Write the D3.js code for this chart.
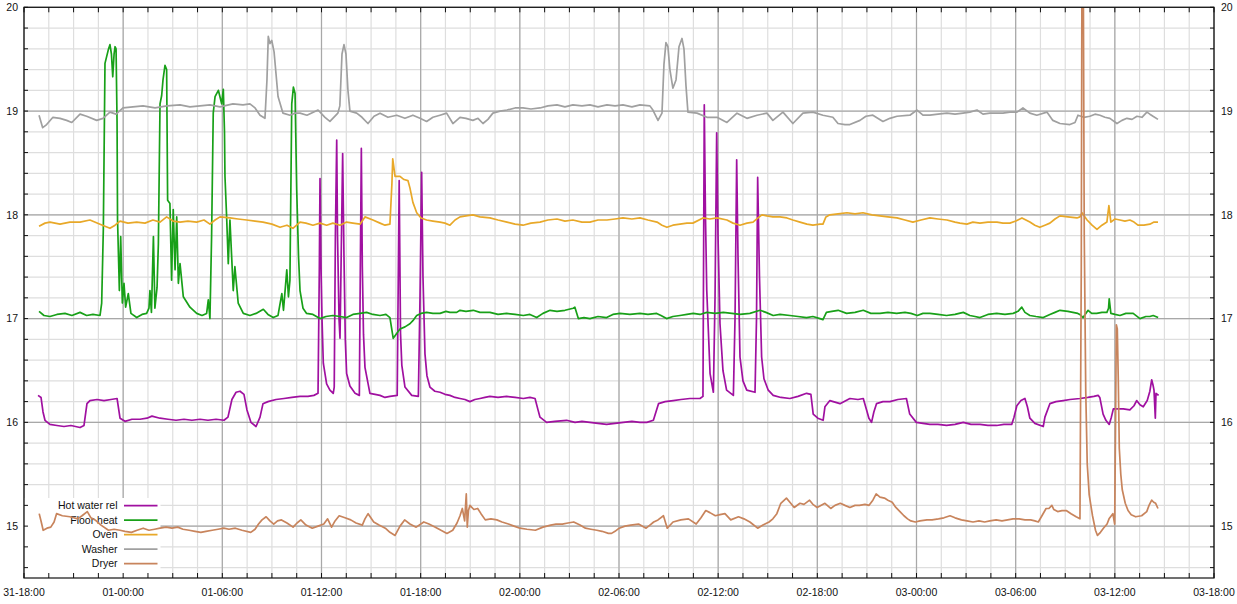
<!DOCTYPE html>
<html><head><meta charset="utf-8">
<script src="https://cdn.jsdelivr.net/npm/d3@7"></script>
<style>
html,body{margin:0;padding:0;background:#fff;}
svg{display:block;font-family:"Liberation Sans",Arial,sans-serif;}
</style></head>
<body><svg id="chart" width="1237" height="604"></svg>
<script>
// ---- data: [hours since 31-18:00, value] ----
const seriesNames = ["Hot water rel","Floor heat","Oven","Washer","Dryer"];
const seriesColors = ["#a010a0","#18a018","#e8a828","#a0a0a0","#c8845c"];
const startTime = "2024-01-31T18:00:00";
const yTickValues = [15,16,17,18,19,20];

const hotWater = [[0.85,16.26],[1.03,16.24],[1.15,16.10],[1.27,16.02],[1.57,15.98],[1.99,15.97],[2.42,15.96],[2.84,15.97],[3.39,15.95],[3.63,15.97],[3.81,16.18],[3.99,16.21],[4.42,16.22],[4.84,16.21],[5.26,16.22],[5.63,16.23],[5.81,16.04],[6.11,16.01],[6.53,16.03],[7.02,16.03],[7.44,16.04],[7.74,16.06],[8.23,16.04],[8.71,16.03],[9.20,16.02],[9.68,16.03],[10.16,16.02],[10.65,16.03],[11.13,16.02],[11.62,16.03],[12.10,16.02],[12.34,16.05],[12.58,16.22],[12.83,16.29],[13.07,16.30],[13.31,16.27],[13.49,16.12],[13.73,16.00],[14.04,15.96],[14.28,16.05],[14.46,16.18],[14.76,16.20],[15.25,16.22],[15.73,16.23],[16.21,16.24],[16.70,16.25],[17.18,16.25],[17.54,16.26],[17.79,16.28],[17.87,17.50],[17.91,18.35],[17.97,17.50],[18.03,17.00],[18.11,16.57],[18.31,16.37],[18.51,16.31],[18.71,16.28],[18.77,16.34],[18.84,17.80],[18.92,18.72],[18.97,17.80],[19.06,17.00],[19.12,16.81],[19.20,17.70],[19.28,18.59],[19.36,17.60],[19.44,16.80],[19.52,16.47],[19.72,16.35],[20.03,16.28],[20.29,16.26],[20.35,17.50],[20.41,18.64],[20.47,17.50],[20.54,16.85],[20.63,16.53],[20.93,16.28],[21.24,16.27],[21.54,16.26],[21.84,16.24],[22.14,16.25],[22.58,16.26],[22.64,17.30],[22.70,18.33],[22.78,16.86],[22.86,16.55],[23.05,16.34],[23.46,16.26],[23.86,16.25],[23.96,17.20],[24.06,18.41],[24.14,17.40],[24.26,16.66],[24.38,16.45],[24.56,16.34],[24.86,16.30],[25.17,16.29],[25.47,16.27],[25.77,16.26],[26.08,16.24],[26.38,16.23],[26.68,16.22],[26.98,16.20],[27.28,16.22],[27.59,16.23],[27.89,16.24],[28.19,16.25],[28.68,16.24],[29.20,16.25],[29.71,16.24],[30.21,16.23],[30.61,16.24],[30.92,16.23],[31.10,16.12],[31.22,16.05],[31.62,16.00],[32.12,16.01],[32.83,16.02],[33.34,16.00],[33.76,16.01],[34.24,16.00],[34.73,15.99],[35.25,15.98],[35.76,15.99],[36.26,16.00],[36.78,16.01],[37.27,16.00],[37.68,16.00],[38.08,16.02],[38.39,16.18],[38.79,16.20],[39.28,16.21],[39.75,16.22],[40.29,16.23],[40.90,16.23],[41.08,16.25],[41.16,19.06],[41.23,18.00],[41.31,17.27],[41.51,16.47],[41.71,16.29],[41.81,17.20],[41.91,18.79],[41.99,17.80],[42.11,16.95],[42.29,16.50],[42.51,16.31],[42.92,16.26],[43.02,17.00],[43.12,18.53],[43.20,17.60],[43.32,16.63],[43.50,16.40],[43.73,16.31],[44.23,16.29],[44.32,17.00],[44.39,18.36],[44.50,17.40],[44.63,16.63],[44.77,16.42],[45.03,16.31],[45.33,16.26],[45.80,16.24],[46.34,16.23],[46.83,16.25],[47.35,16.28],[47.61,16.27],[47.75,16.08],[48.03,16.04],[48.35,16.02],[48.46,16.15],[48.76,16.21],[49.37,16.18],[49.97,16.23],[50.46,16.22],[50.78,16.23],[50.98,16.12],[51.12,16.04],[51.28,16.00],[51.42,16.10],[51.58,16.18],[51.97,16.20],[52.39,16.20],[52.87,16.22],[53.39,16.23],[53.59,16.08],[53.99,16.00],[54.39,15.99],[54.81,15.98],[55.30,15.98],[55.82,15.97],[56.33,15.98],[56.83,16.00],[57.30,15.98],[57.84,15.98],[58.32,15.97],[58.85,15.97],[59.29,15.98],[59.76,15.98],[59.90,16.05],[60.07,16.16],[60.32,16.21],[60.56,16.23],[60.71,16.15],[60.86,16.04],[61.16,15.99],[61.67,15.96],[61.77,16.05],[62.07,16.18],[62.44,16.20],[62.88,16.21],[63.29,16.22],[63.89,16.23],[64.37,16.24],[64.73,16.25],[64.99,16.26],[65.09,16.24],[65.29,16.08],[65.46,16.02],[65.66,15.98],[65.79,16.05],[65.91,16.13],[66.19,16.13],[66.51,16.13],[66.91,16.12],[67.16,16.16],[67.32,16.21],[67.52,16.17],[67.72,16.15],[67.96,16.21],[68.12,16.30],[68.23,16.41],[68.31,16.36],[68.37,16.31],[68.45,16.04],[68.49,16.28],[68.65,16.26]];

const floorHeat = [[0.91,17.07],[1.21,17.03],[1.57,17.02],[1.99,17.04],[2.48,17.05],[2.90,17.03],[3.39,17.06],[3.79,17.03],[4.17,17.04],[4.60,17.03],[4.70,17.15],[4.80,17.86],[4.90,19.46],[5.10,19.59],[5.20,19.64],[5.29,19.55],[5.37,19.33],[5.45,19.55],[5.51,19.62],[5.57,19.60],[5.63,18.90],[5.66,17.95],[5.77,17.27],[5.85,17.79],[5.95,17.15],[6.05,17.34],[6.15,17.11],[6.31,17.24],[6.47,17.05],[6.82,17.01],[7.14,17.04],[7.42,17.05],[7.56,17.10],[7.62,17.27],[7.71,17.06],[7.83,17.79],[7.92,17.10],[8.05,17.30],[8.13,17.72],[8.23,19.07],[8.33,19.15],[8.41,19.30],[8.53,19.44],[8.63,19.40],[8.69,18.14],[8.83,18.11],[8.93,17.37],[9.03,18.05],[9.14,17.47],[9.24,17.98],[9.34,17.34],[9.44,17.53],[9.64,17.21],[10.04,17.11],[10.45,17.05],[10.77,17.03],[11.05,17.05],[11.15,17.18],[11.25,17.00],[11.35,17.79],[11.45,18.98],[11.56,19.14],[11.76,19.20],[11.96,19.07],[12.06,19.21],[12.13,18.80],[12.16,18.37],[12.26,17.98],[12.36,17.53],[12.46,17.95],[12.66,17.27],[12.76,17.50],[12.96,17.15],[13.27,17.05],[13.67,17.03],[14.04,17.05],[14.48,17.09],[14.76,17.04],[15.08,17.01],[15.37,17.03],[15.60,17.24],[15.70,17.08],[15.90,17.47],[16.00,17.21],[16.09,17.37],[16.20,19.07],[16.30,19.23],[16.40,19.17],[16.50,18.24],[16.61,17.60],[16.70,17.27],[16.88,17.10],[17.10,17.05],[17.48,17.04],[17.91,17.00],[18.27,17.02],[18.69,17.03],[19.12,17.02],[19.52,17.01],[19.90,17.04],[20.33,17.05],[20.73,17.06],[21.11,17.04],[21.54,17.03],[21.90,17.04],[22.14,17.01],[22.34,16.81],[22.57,16.86],[22.75,16.90],[23.05,16.92],[23.35,16.95],[23.53,16.98],[23.76,17.03],[24.02,17.05],[24.36,17.06],[24.74,17.05],[25.17,17.05],[25.53,17.07],[25.77,17.06],[26.18,17.06],[26.38,17.08],[26.74,17.07],[27.18,17.08],[27.59,17.06],[28.19,17.06],[28.68,17.04],[29.20,17.05],[29.71,17.04],[30.21,17.03],[30.61,17.04],[31.02,17.01],[31.40,17.05],[31.83,17.08],[32.25,17.07],[32.73,17.08],[33.23,17.10],[33.33,17.11],[33.54,17.00],[33.88,17.01],[34.24,17.00],[34.73,17.02],[35.25,17.01],[35.63,17.04],[36.06,17.05],[36.66,17.04],[37.27,17.05],[37.75,17.04],[38.28,17.05],[38.54,17.03],[38.88,17.00],[39.26,17.02],[39.69,17.03],[40.11,17.04],[40.49,17.05],[40.90,17.04],[41.31,17.06],[41.81,17.05],[42.31,17.06],[42.83,17.05],[43.32,17.04],[43.92,17.05],[44.53,17.08],[44.89,17.06],[45.33,17.03],[45.74,17.04],[46.34,17.03],[46.83,17.02],[47.35,17.01],[47.73,17.02],[48.16,17.00],[48.34,16.99],[48.55,17.06],[48.88,17.07],[49.26,17.08],[49.77,17.05],[50.28,17.06],[50.78,17.08],[51.24,17.05],[51.79,17.05],[52.27,17.06],[52.80,17.05],[53.30,17.06],[53.66,17.05],[54.05,17.03],[54.39,17.05],[54.81,17.05],[55.30,17.04],[55.82,17.03],[56.33,17.04],[56.83,17.06],[57.23,17.03],[57.54,17.02],[57.84,17.01],[58.32,17.04],[58.85,17.05],[59.35,17.04],[59.85,17.05],[60.14,17.07],[60.37,17.11],[60.56,17.06],[60.86,17.03],[61.23,17.02],[61.67,17.01],[62.07,17.04],[62.38,17.06],[62.68,17.08],[63.16,17.07],[63.76,17.05],[63.88,17.04],[64.08,17.01],[64.38,17.08],[64.60,17.05],[64.90,17.05],[65.22,17.06],[65.52,17.06],[65.62,17.10],[65.66,17.19],[65.76,17.05],[66.01,17.04],[66.31,17.03],[66.67,17.05],[67.11,17.05],[67.52,17.00],[67.88,17.02],[68.12,17.02],[68.32,17.03],[68.62,17.01]];

const oven = [[0.91,17.89],[1.27,17.92],[1.57,17.93],[2.18,17.91],[2.78,17.93],[3.39,17.93],[3.99,17.95],[4.60,17.91],[5.20,17.87],[5.51,17.90],[5.81,17.94],[6.29,17.92],[6.82,17.93],[7.32,17.92],[7.80,17.95],[8.23,17.93],[8.63,17.98],[9.02,17.94],[9.44,17.93],[9.92,17.94],[10.45,17.93],[10.89,17.95],[11.25,17.91],[11.56,17.95],[11.86,17.98],[12.46,17.97],[12.95,17.96],[13.47,17.95],[13.98,17.94],[14.46,17.93],[15.00,17.91],[15.49,17.88],[15.91,17.90],[16.27,17.87],[16.70,17.93],[17.06,17.92],[17.48,17.90],[17.91,17.92],[18.31,17.90],[18.69,17.92],[19.12,17.90],[19.52,17.93],[19.90,17.92],[20.33,17.91],[20.63,17.98],[21.11,17.95],[21.54,17.92],[21.84,17.90],[22.14,17.91],[22.26,18.30],[22.31,18.54],[22.45,18.37],[22.75,18.37],[22.99,18.34],[23.23,18.33],[23.35,18.26],[23.53,18.12],[23.76,18.02],[24.02,17.97],[24.36,17.95],[24.74,17.94],[25.17,17.93],[25.47,17.92],[25.77,17.90],[26.08,17.95],[26.38,17.98],[26.74,17.99],[27.16,18.00],[27.59,17.98],[28.19,17.97],[28.68,17.95],[29.22,17.93],[29.71,17.91],[30.19,17.90],[30.67,17.92],[31.22,17.93],[31.70,17.95],[32.25,17.96],[32.73,17.94],[33.21,17.95],[33.76,17.93],[34.24,17.93],[34.73,17.95],[35.27,17.95],[35.76,17.96],[36.24,17.97],[36.78,17.96],[37.27,17.97],[37.75,17.95],[38.30,17.93],[38.60,17.90],[38.90,17.88],[39.26,17.90],[39.69,17.91],[40.11,17.92],[40.47,17.92],[41.08,17.97],[41.50,17.96],[41.93,17.97],[42.53,17.95],[42.90,17.92],[43.32,17.90],[43.74,17.92],[44.11,17.93],[44.41,17.97],[44.65,18.00],[44.95,17.99],[45.31,17.98],[45.74,17.98],[46.16,17.97],[46.52,17.95],[46.95,17.93],[47.37,17.91],[47.73,17.90],[48.16,17.91],[48.34,17.91],[48.52,17.98],[48.76,18.00],[49.25,18.01],[49.79,18.02],[50.28,18.01],[50.76,18.02],[51.30,18.00],[51.79,17.99],[52.27,17.98],[52.82,17.97],[53.30,17.95],[53.78,17.93],[54.27,17.95],[54.81,17.97],[55.30,17.96],[55.84,17.95],[56.33,17.93],[56.63,17.92],[57.05,17.91],[57.41,17.93],[57.84,17.92],[58.32,17.93],[58.87,17.93],[59.23,17.92],[59.65,17.92],[60.01,17.94],[60.38,17.97],[60.86,17.93],[61.16,17.90],[61.46,17.88],[61.77,17.90],[62.07,17.92],[62.38,17.96],[62.68,17.99],[63.16,17.98],[63.71,17.97],[63.89,17.98],[64.01,18.02],[64.32,17.95],[64.62,17.90],[64.92,17.86],[65.22,17.90],[65.52,17.93],[65.64,18.09],[65.76,17.93],[66.01,17.96],[66.31,17.95],[66.61,17.94],[66.91,17.95],[67.16,17.93],[67.40,17.90],[67.76,17.90],[68.12,17.91],[68.37,17.93],[68.61,17.93]];

const washer = [[0.91,18.96],[1.13,18.84],[1.37,18.87],[1.75,18.94],[2.18,18.93],[2.58,18.91],[2.89,18.89],[3.39,18.97],[3.79,18.95],[4.40,18.91],[4.78,18.93],[5.20,18.99],[5.57,18.97],[5.99,19.03],[6.59,19.04],[7.20,19.05],[7.93,19.03],[8.65,19.05],[9.44,19.06],[10.04,19.04],[10.65,19.05],[11.25,19.06],[11.86,19.04],[12.64,19.07],[13.25,19.06],[13.67,19.07],[13.98,19.03],[14.28,18.96],[14.58,18.93],[14.70,19.30],[14.78,19.72],[14.88,19.65],[14.99,19.68],[15.13,19.57],[15.37,19.14],[15.67,18.98],[16.09,18.96],[16.40,18.98],[16.70,18.98],[17.12,18.96],[17.79,19.01],[18.21,18.94],[18.51,18.90],[18.99,18.98],[19.11,19.05],[19.24,19.55],[19.36,19.64],[19.48,19.55],[19.60,19.20],[19.72,19.00],[20.13,18.98],[20.45,18.94],[20.81,18.88],[21.18,18.95],[21.54,18.98],[22.02,18.94],[22.55,18.96],[23.05,18.93],[23.53,18.96],[23.96,18.93],[24.36,18.90],[24.74,18.94],[25.17,18.96],[25.57,18.98],[25.95,18.88],[26.38,18.94],[26.74,18.93],[27.16,18.91],[27.47,18.93],[27.77,18.88],[28.07,18.92],[28.37,18.98],[28.80,19.00],[29.22,19.01],[29.71,19.03],[30.19,19.03],[30.67,19.02],[31.22,19.03],[31.70,19.05],[32.25,19.06],[32.73,19.04],[33.21,19.06],[33.76,19.05],[34.24,19.06],[34.73,19.04],[35.27,19.06],[35.76,19.05],[36.24,19.06],[36.78,19.04],[37.27,19.06],[37.87,19.05],[38.05,19.01],[38.36,18.91],[38.60,18.98],[38.72,19.45],[38.84,19.66],[38.96,19.62],[39.08,19.40],[39.26,19.22],[39.45,19.30],[39.63,19.62],[39.81,19.70],[39.93,19.60],[40.05,19.25],[40.17,18.99],[40.72,18.98],[41.32,18.94],[41.93,18.94],[42.53,18.89],[43.14,18.98],[43.74,18.93],[44.35,18.96],[44.95,18.98],[45.31,18.91],[45.92,18.99],[46.52,18.88],[47.13,18.98],[47.73,18.99],[48.34,18.96],[48.94,18.94],[49.25,18.88],[49.67,18.87],[49.97,18.87],[50.58,18.91],[50.94,18.95],[51.36,18.96],[51.97,18.90],[52.39,18.93],[52.82,18.95],[53.60,18.96],[54.03,19.01],[54.39,18.96],[54.81,18.96],[55.30,18.97],[55.84,18.98],[56.33,18.97],[56.81,18.98],[57.23,18.99],[57.66,19.01],[58.02,18.97],[58.44,18.98],[58.87,18.98],[59.23,18.98],[59.65,18.99],[60.08,18.99],[60.44,19.03],[60.86,18.98],[61.28,18.96],[61.89,18.99],[62.25,18.91],[62.68,18.88],[63.28,18.87],[63.59,18.89],[63.77,18.96],[64.13,18.94],[64.49,18.95],[64.80,18.97],[65.10,18.96],[65.40,18.94],[65.70,18.93],[66.13,18.88],[66.43,18.91],[66.73,18.93],[67.04,18.92],[67.34,18.95],[67.64,18.94],[67.94,18.99],[68.12,18.97],[68.31,18.95],[68.61,18.92]];

const dryer = [[0.92,15.12],[1.03,15.05],[1.16,14.96],[1.39,14.98],[1.62,14.99],[1.82,15.04],[1.97,15.12],[2.32,15.10],[2.78,15.09],[3.25,15.07],[3.51,15.10],[3.83,15.14],[4.05,15.08],[4.30,15.06],[4.66,15.01],[5.11,14.96],[5.45,14.97],[5.81,14.96],[6.11,14.95],[6.50,14.94],[6.84,14.96],[7.21,14.98],[7.56,14.96],[7.90,14.97],[8.23,14.98],[8.60,14.99],[8.95,14.98],[9.30,14.99],[9.62,14.97],[9.99,14.96],[10.35,14.95],[10.70,14.94],[11.01,14.95],[11.39,14.96],[11.74,14.97],[12.09,14.98],[12.40,14.97],[12.79,14.98],[13.19,14.96],[13.72,14.94],[13.98,14.97],[14.19,15.02],[14.40,15.06],[14.65,15.09],[14.88,15.05],[15.11,15.02],[15.34,15.05],[15.58,15.06],[15.91,15.03],[16.28,14.99],[16.52,15.03],[16.75,15.06],[17.06,15.01],[17.44,14.98],[17.79,15.00],[18.14,15.02],[18.37,15.07],[18.61,14.99],[18.82,15.05],[19.07,15.10],[19.42,15.08],[19.77,15.06],[20.09,15.03],[20.47,15.01],[20.63,15.07],[20.82,15.12],[21.16,15.04],[21.48,15.01],[21.86,14.98],[22.14,14.94],[22.45,14.91],[22.75,15.00],[23.03,15.06],[23.35,15.02],[23.73,14.99],[24.19,15.04],[24.50,15.02],[24.89,14.99],[25.23,14.96],[25.59,14.93],[25.94,14.96],[26.20,15.03],[26.38,15.10],[26.52,15.17],[26.66,15.05],[26.76,15.31],[26.82,14.99],[26.89,15.15],[26.98,15.20],[27.22,15.16],[27.45,15.17],[27.65,15.12],[27.91,15.06],[28.25,15.07],[28.61,15.06],[28.92,15.04],[29.31,15.02],[29.65,15.00],[30.01,14.98],[30.43,14.97],[30.94,14.96],[31.40,14.99],[31.87,15.01],[32.19,15.02],[32.57,15.02],[32.91,15.03],[33.26,15.04],[33.64,15.01],[33.97,14.98],[34.30,14.97],[34.66,14.96],[34.97,14.95],[35.36,14.93],[35.55,14.93],[35.76,14.95],[36.01,14.98],[36.36,15.00],[36.71,15.01],[37.18,15.02],[37.64,14.98],[37.87,15.01],[38.10,15.04],[38.36,15.06],[38.69,15.10],[38.92,14.98],[39.27,15.04],[39.74,15.06],[40.20,15.07],[40.67,15.02],[40.96,15.08],[41.25,15.15],[41.50,15.13],[41.83,15.10],[42.11,15.11],[42.41,15.12],[42.76,15.06],[43.23,15.09],[43.56,15.07],[43.92,15.04],[44.39,14.98],[44.71,15.01],[45.08,15.04],[45.31,15.07],[45.55,15.12],[45.79,15.22],[46.13,15.27],[46.34,15.23],[46.60,15.18],[46.95,15.22],[47.19,15.21],[47.53,15.25],[47.73,15.21],[47.99,15.18],[48.46,15.22],[48.81,15.17],[49.07,15.20],[49.39,15.22],[49.67,15.20],[49.97,15.18],[50.28,15.20],[50.55,15.20],[50.88,15.21],[51.13,15.20],[51.36,15.25],[51.56,15.31],[51.79,15.28],[52.06,15.27],[52.27,15.25],[52.53,15.23],[52.75,15.18],[53.00,15.14],[53.24,15.10],[53.46,15.07],[53.66,15.05],[53.93,15.04],[54.21,15.05],[54.63,15.06],[54.94,15.06],[55.33,15.07],[55.66,15.08],[56.03,15.10],[56.33,15.08],[56.72,15.06],[57.05,15.05],[57.42,15.04],[57.78,15.05],[58.12,15.04],[58.44,15.05],[58.82,15.06],[59.17,15.05],[59.51,15.06],[59.84,15.07],[60.21,15.07],[60.56,15.06],[60.91,15.06],[61.16,15.05],[61.37,15.04],[61.59,15.10],[61.84,15.17],[62.01,15.17],[62.19,15.20],[62.31,15.16],[62.54,15.14],[62.80,15.15],[63.06,15.15],[63.35,15.12],[63.66,15.09],[63.89,15.07],[63.97,17.50],[64.01,20.40],[64.09,20.40],[64.15,17.80],[64.24,16.30],[64.33,15.60],[64.45,15.30],[64.65,15.10],[64.83,14.96],[64.95,14.91],[65.13,14.94],[65.31,14.98],[65.53,15.02],[65.65,15.07],[65.88,15.12],[65.99,15.02],[66.05,16.10],[66.09,16.94],[66.15,16.90],[66.21,16.40],[66.27,15.75],[66.36,15.50],[66.45,15.35],[66.63,15.22],[66.80,15.15],[66.99,15.11],[67.26,15.09],[67.62,15.10],[67.93,15.14],[68.07,15.20],[68.23,15.25],[68.35,15.23],[68.47,15.22],[68.61,15.17]];

const allSeries = [hotWater, floorHeat, oven, washer, dryer];

// ---- layout ----
const W = 1237, H = 604;
const M = {left:24, right:23, top:7.3, bottom:26};
const svg = d3.select("#chart");
const t0 = new Date(startTime);
const hToDate = h => new Date(t0.getTime() + h*3600e3);

const x = d3.scaleTime().domain([t0, hToDate(72)]).range([M.left, W - M.right]);
const y = d3.scaleLinear().domain([14.5, 20]).range([H - M.bottom, M.top]);
const x0 = M.left, x1 = W - M.right, y0 = H - M.bottom, y1 = M.top;

const minorX = d3.range(0, 72.01, 1.5).map(hToDate);
const majorX = d3.range(0, 72.01, 6).map(hToDate);
const minorY = d3.range(14.6, 20.001, 0.2).map(v => +v.toFixed(1));

// grid
const grid = svg.append("g");
grid.selectAll(".gxm").data(minorX).join("line")
  .attr("x1", d => x(d)).attr("x2", d => x(d)).attr("y1", y1).attr("y2", y0)
  .attr("stroke", "#dedede").attr("stroke-width", 1.2);
grid.selectAll(".gym").data(minorY).join("line")
  .attr("x1", x0).attr("x2", x1).attr("y1", d => y(d)).attr("y2", d => y(d))
  .attr("stroke", "#dedede").attr("stroke-width", 1.2);
grid.selectAll(".gxM").data(majorX).join("line")
  .attr("x1", d => x(d)).attr("x2", d => x(d)).attr("y1", y1).attr("y2", y0)
  .attr("stroke", "#a8a8a8").attr("stroke-width", 1.2);
grid.selectAll(".gyM").data(yTickValues).join("line")
  .attr("x1", x0).attr("x2", x1).attr("y1", d => y(d)).attr("y2", d => y(d))
  .attr("stroke", "#a8a8a8").attr("stroke-width", 1.2);

// legend (below data)
const leg = svg.append("g");
leg.append("rect").attr("x", x0 + 0.5).attr("y", 498).attr("width", 136).attr("height", y0 - 498 - 0.5).attr("fill", "#fff");
seriesNames.forEach((n, i) => {
  const ly = 505.7 + i * 14.5;
  leg.append("text").attr("x", 117.5).attr("y", ly).attr("dy", "0.35em")
    .attr("text-anchor", "end").attr("font-size", "10.5px").attr("fill", "#111").text(n);
  leg.append("line").attr("x1", 124).attr("x2", 157.5).attr("y1", ly).attr("y2", ly)
    .attr("stroke", seriesColors[i]).attr("stroke-width", 1.7);
});

// data
svg.append("defs").append("clipPath").attr("id", "clip")
  .append("rect").attr("x", x0).attr("y", y1).attr("width", x1 - x0).attr("height", y0 - y1);
const line = d3.line().x(d => x(hToDate(d[0]))).y(d => y(d[1]));
const dg = svg.append("g").attr("clip-path", "url(#clip)");
allSeries.forEach((s, i) => {
  dg.append("path").datum(s).attr("d", line).attr("fill", "none")
    .attr("stroke", seriesColors[i]).attr("stroke-width", 1.7).attr("stroke-linejoin", "round");
});

// frame
svg.append("rect").attr("x", x0).attr("y", y1).attr("width", x1 - x0).attr("height", y0 - y1)
  .attr("fill", "none").attr("stroke", "#111").attr("stroke-width", 1.2);

// ticks
const tk = svg.append("g").attr("stroke", "#111").attr("stroke-width", 1);
tk.selectAll(".tb").data(minorX).join("line")
  .attr("x1", d => x(d)).attr("x2", d => x(d)).attr("y1", y0).attr("y2", y0 - 5);
tk.selectAll(".tt").data(minorX).join("line")
  .attr("x1", d => x(d)).attr("x2", d => x(d)).attr("y1", y1).attr("y2", y1 + 5);
tk.selectAll(".tl").data(minorY).join("line")
  .attr("x1", x0).attr("x2", x0 + 4).attr("y1", d => y(d)).attr("y2", d => y(d));
tk.selectAll(".tr").data(minorY).join("line")
  .attr("x1", x1).attr("x2", x1 - 4).attr("y1", d => y(d)).attr("y2", d => y(d));

// axis labels
const fmt = d3.timeFormat("%d-%H:%M");
svg.append("g").selectAll("text").data(majorX).join("text")
  .attr("x", d => x(d)).attr("y", 592).attr("dy", "0.35em").attr("text-anchor", "middle")
  .attr("font-size", "10.5px").attr("fill", "#111").text(d => fmt(d));
svg.append("g").selectAll("text").data(yTickValues).join("text")
  .attr("x", 18).attr("y", d => y(d)).attr("dy", "0.35em").attr("text-anchor", "end")
  .attr("font-size", "10.5px").attr("fill", "#111").text(d => d);
svg.append("g").selectAll("text").data(yTickValues).join("text")
  .attr("x", 1221).attr("y", d => y(d)).attr("dy", "0.35em").attr("text-anchor", "start")
  .attr("font-size", "10.5px").attr("fill", "#111").text(d => d);
</script></body></html>
